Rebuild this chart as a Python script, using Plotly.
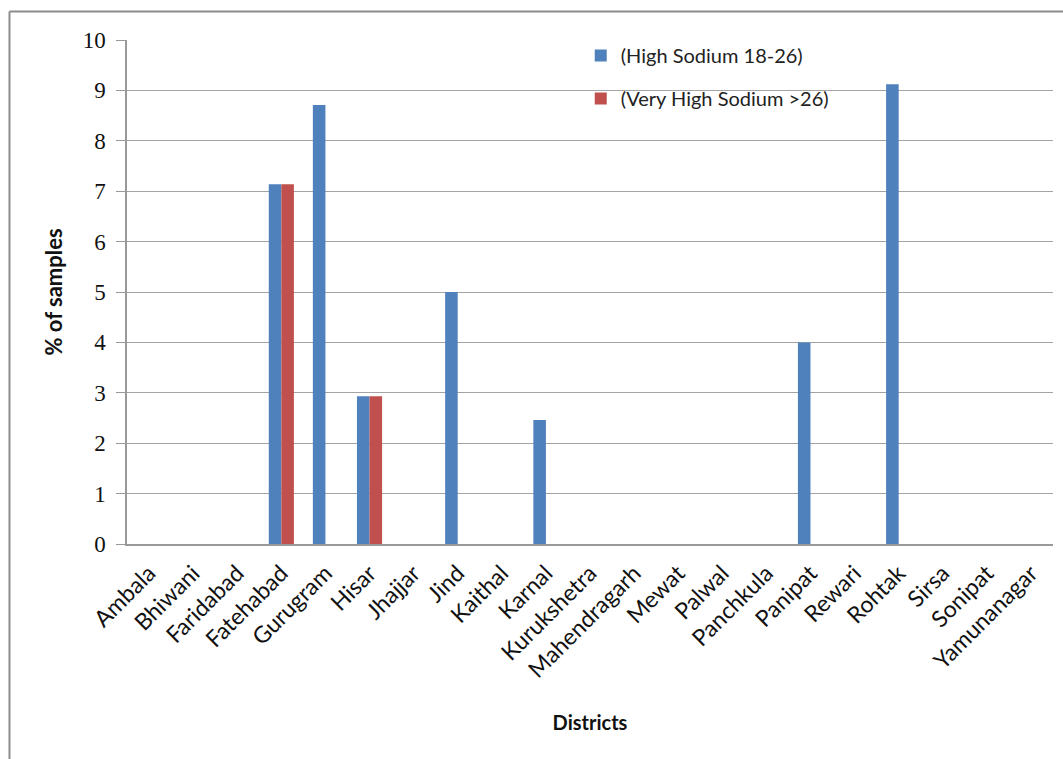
import plotly.graph_objects as go

districts = ["Ambala", "Bhiwani", "Faridabad", "Fatehabad", "Gurugram", "Hisar",
             "Jhajjar", "Jind", "Kaithal", "Karnal", "Kurukshetra", "Mahendragarh",
             "Mewat", "Palwal", "Panchkula", "Panipat", "Rewari", "Rohtak",
             "Sirsa", "Sonipat", "Yamunanagar"]
high_sodium = [0, 0, 0, 7.14, 8.71, 2.93, 0, 5.0, 0, 2.46, 0, 0,
               0, 0, 0, 4.0, 0, 9.12, 0, 0, 0]
very_high_sodium = [0, 0, 0, 7.14, 0, 2.93, 0, 0, 0, 0, 0, 0,
                    0, 0, 0, 0, 0, 0, 0, 0, 0]
y_ticks = list(range(0, 11))

fig = go.Figure()
fig.add_trace(go.Bar(
    x=districts, y=high_sodium, name="(High Sodium 18-26)",
    marker=dict(color="#4F81BD", line=dict(width=0)),
    legendgroup="a",
))
fig.add_trace(go.Bar(
    x=districts, y=very_high_sodium, name="(Very High Sodium >26)",
    marker=dict(color="#C0504D", line=dict(width=0)),
    legendgroup="b",
))

# outer frame (left and top edges)
frame = dict(color="#8c8c8c", width=2)
fig.add_shape(type="line", xref="paper", yref="paper",
              x0=-0.1269, x1=-0.1269, y0=1.0565, y1=-0.5, line=frame)
fig.add_shape(type="line", xref="paper", yref="paper",
              x0=-0.1269, x1=1.05, y0=1.0565, y1=1.0565, line=frame)

fig.update_layout(
    width=1063, height=759,
    margin=dict(l=127, r=10, t=40, b=215, autoexpand=False),
    plot_bgcolor="white", paper_bgcolor="white",
    barmode="group", bargap=0.43, bargroupgap=0,
    showlegend=True,
    legend=dict(x=0.49, y=1.008, xanchor="left", yanchor="top",
                bgcolor="rgba(0,0,0,0)", traceorder="grouped", tracegroupgap=14,
                font=dict(family="Lato", size=20, color="#222"),
                itemwidth=30),
    xaxis=dict(
        type="category", tickangle=-45,
        tickfont=dict(family="Lato", size=23, color="#111"),
        ticklabelstandoff=5,
        showgrid=False, showline=True, linecolor="#999", linewidth=1.5,
        ticks="",
        title=dict(text="<b>Districts</b>", font=dict(family="Lato", size=20, color="#111"),
                   standoff=34),
    ),
    yaxis=dict(
        range=[0, 10], tickvals=y_ticks,
        tickfont=dict(family="Liberation Serif", size=23, color="#111"),
        ticklabelstandoff=6,
        showgrid=True, gridcolor="#a3a3a3", gridwidth=1.3,
        showline=True, linecolor="#999", linewidth=1.5,
        ticks="outside", ticklen=9, tickcolor="#999",
        zeroline=False,
        title=dict(text="<b>% of samples</b>", font=dict(family="Lato", size=22, color="#111"),
                   standoff=14),
    ),
)

fig.write_html("out.html")
